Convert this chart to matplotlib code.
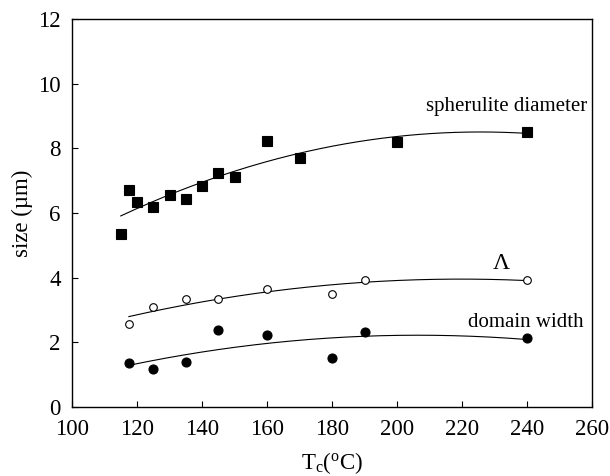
import numpy as np
import matplotlib
matplotlib.use("Agg")
import matplotlib.pyplot as plt

plt.rcParams['font.family'] = ['Liberation Serif', 'DejaVu Serif']
plt.rcParams['mathtext.fontset'] = 'custom'
plt.rcParams['mathtext.rm'] = 'Liberation Serif'
plt.rcParams['mathtext.it'] = 'Liberation Serif:italic'

# crystallization temperature (C) and measured sizes (um)
tc_sph = [115, 117.5, 120, 125, 130, 135, 140, 145, 150, 160, 170, 200, 240]
d_sph = [5.35, 6.71, 6.34, 6.20, 6.56, 6.43, 6.85, 7.23, 7.11, 8.23, 7.69, 8.20, 8.51]

tc_lam = [117.5, 125, 135, 145, 160, 180, 190, 240]
d_lam = [2.56, 3.09, 3.34, 3.34, 3.66, 3.49, 3.94, 3.94]

tc_dom = [117.5, 125, 135, 145, 160, 180, 190, 240]
d_dom = [1.36, 1.16, 1.38, 2.37, 2.24, 1.52, 2.33, 2.14]

fig = plt.figure(figsize=(6.10, 4.76), dpi=100)
ax = fig.add_axes([0.118, 0.145, 0.853, 0.815])


def fit_curve(x, y):
    c = np.polyfit(x, y, 2)
    xs = np.linspace(min(x), max(x), 200)
    return xs, np.polyval(c, xs)


for x, y, mk, fc, ms in [(tc_sph, d_sph, 's', 'black', 6.5),
                         (tc_lam, d_lam, 'o', 'white', 5.5),
                         (tc_dom, d_dom, 'o', 'black', 6.5)]:
    xs, ys = fit_curve(x, y)
    ax.plot(xs, ys, color='black', lw=0.8, zorder=2)
    ax.plot(x, y, ls='none', marker=mk, mfc=fc, mec='black', mew=0.8,
            ms=ms, zorder=3)

ax.text(233.5, 9.3, 'spherulite diameter', fontsize=15, ha='center', va='center')
ax.text(232, 4.45, r'$\Lambda$', fontsize=17, ha='center', va='center')
ax.text(239.5, 2.6, 'domain width', fontsize=15, ha='center', va='center')

ax.set_xlim(100, 260)
ax.set_ylim(0, 12)
ax.set_xticks(np.arange(100, 261, 20))
ax.set_yticks(np.arange(0, 13, 2))
ax.tick_params(direction='in', length=4, width=0.8, labelsize=16.5,
               top=False, right=False)
ax.tick_params(axis='x', pad=9)
ax.tick_params(axis='y', pad=8)
for s in ax.spines.values():
    s.set_linewidth(1.0)

ax.set_xlabel(r'T$_{\rm c}$($^{\rm o}$C)', fontsize=16.5, labelpad=7)
ax.set_ylabel('size (\u00b5m)', fontsize=16.5, labelpad=4)

fig.savefig('out.png', dpi=100)
